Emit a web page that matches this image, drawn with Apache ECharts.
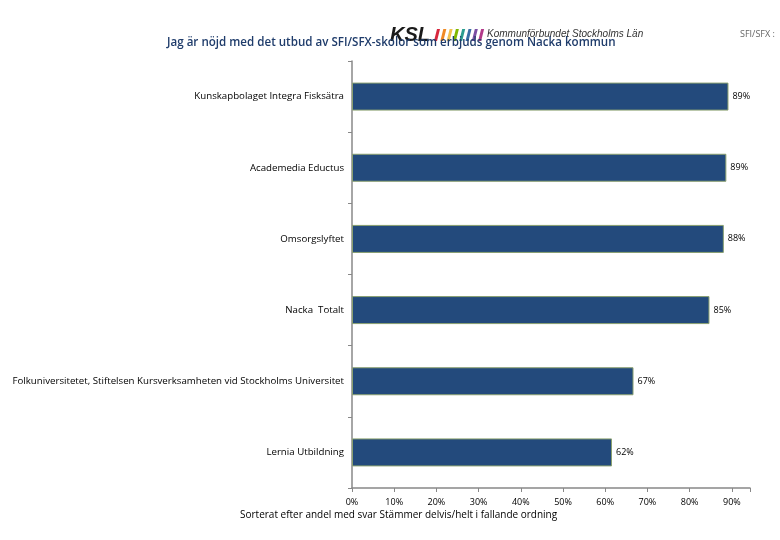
<!DOCTYPE html>
<html>
<head>
<meta charset="utf-8">
<script src="https://cdn.jsdelivr.net/npm/echarts@6/dist/echarts.min.js"></script>
<style>
  html, body { margin: 0; padding: 0; background: #fff; }
  #chart { width: 780px; height: 540px; }
</style>
</head>
<body>
<div id="chart"></div>
<script>
  // categories top to bottom, share answering Stämmer delvis/helt (%)
  var categories = [
    'Kunskapbolaget Integra Fisksätra',
    'Academedia Eductus',
    'Omsorgslyftet',
    'Nacka  Totalt',
    'Folkuniversitetet, Stiftelsen Kursverksamheten vid Stockholms Universitet',
    'Lernia Utbildning'
  ];
  var shares = [89.2, 88.7, 88.1, 84.7, 66.7, 61.6];
  var tickLabels = ['0%', '10%', '20%', '30%', '40%', '50%', '60%', '70%', '80%', '90%'];

  var stripeColors = ['#d7263d', '#f08a24', '#f2c14e', '#7fb800', '#2a9d8f', '#3a6ea5', '#7b4fa3', '#b23a8a'];
  var logo = [];
  stripeColors.forEach(function (c, i) {
    var x0 = 434 + i * 6.3;
    logo.push({
      type: 'polygon',
      shape: { points: [[x0 + 3, 29], [x0 + 6, 29], [x0 + 3, 41], [x0, 41]] },
      style: { fill: c }
    });
  });

  var chart = echarts.init(document.getElementById('chart'));
  chart.setOption({
    animation: false,
    grid: { left: 352, right: 30, top: 61, height: 427, containLabel: false },
    graphic: logo.concat([
      { type: 'text', left: 390, top: 25,
        style: { text: 'KSL', font: 'italic bold 20px "Liberation Sans"', fill: '#1a1a1a' } },
      { type: 'text', left: 487, top: 29,
        style: { text: 'Kommunförbundet Stockholms Län', font: 'italic 10px "Liberation Sans"', fill: '#333' } },
      { type: 'text', left: 740, top: 30,
        style: { text: 'SFI/SFX :', font: '9px "Open Sans"', fill: '#666' } },
      { type: 'text', left: 167, top: 37,
        style: { text: 'Jag är nöjd med det utbud av SFI/SFX-skolor som erbjuds genom Nacka kommun',
          font: '600 11.6px "Open Sans"', fill: '#1f3c6b' } },
      { type: 'text', left: 240, top: 510,
        style: { text: 'Sorterat efter andel med svar Stämmer delvis/helt i fallande ordning',
          font: '10px "Open Sans"', fill: '#000' } }
    ]),
    xAxis: {
      type: 'value',
      min: 0,
      max: 94.3,
      interval: 10,
      splitLine: { show: false },
      axisLine: { show: true, lineStyle: { color: '#888', width: 1.5 } },
      axisTick: { show: true, length: 4, lineStyle: { color: '#888' } },
      axisLabel: {
        color: '#000',
        fontSize: 9,
        fontFamily: 'Open Sans',
        margin: 10,
        formatter: function (v) {
          var i = Math.round(v / 10);
          return Math.abs(v - i * 10) < 0.01 ? tickLabels[i] : '';
        }
      }
    },
    yAxis: {
      type: 'category',
      data: categories,
      inverse: true,
      axisLine: { show: true, lineStyle: { color: '#888', width: 1.5 } },
      axisTick: { show: true, length: 4, lineStyle: { color: '#888' } },
      axisLabel: { color: '#000', fontSize: 9.7, fontFamily: 'Open Sans', margin: 8 }
    },
    series: [{
      type: 'bar',
      data: shares,
      barWidth: 28,
      itemStyle: { color: '#234a7c', borderColor: '#8aa070', borderWidth: 1 },
      label: {
        show: true,
        position: 'right',
        distance: 4,
        color: '#000',
        fontSize: 9,
        fontFamily: 'Open Sans',
        formatter: function (p) { return Math.round(p.value) + '%'; }
      }
    }]
  });
</script>
</body>
</html>
